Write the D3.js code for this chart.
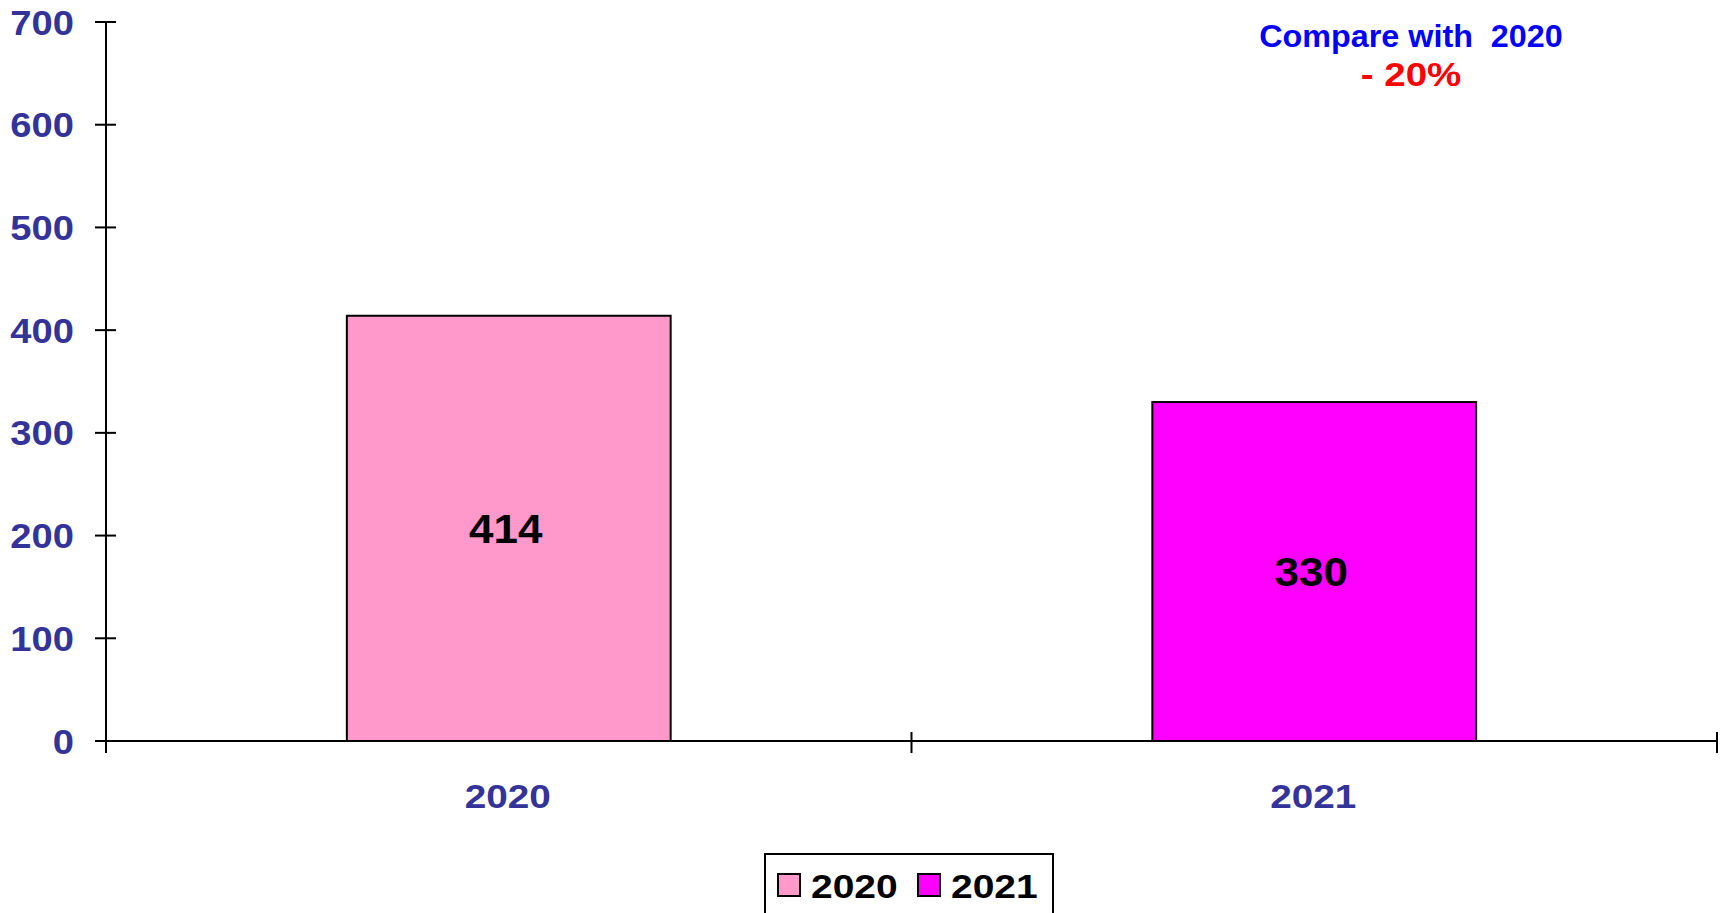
<!DOCTYPE html>
<html>
<head>
<meta charset="utf-8">
<script src="https://cdn.jsdelivr.net/npm/d3@7"></script>
<style>
  body { margin: 0; background: #fff; }
  svg text { font-family: "Liberation Sans", Arial, sans-serif; font-weight: bold; }
</style>
</head>
<body>
<svg id="chart" width="1723" height="913"></svg>
<script>
const years = ["2020", "2021"];
const values = [414, 330];
const barColors = ["#FF99CC", "#FF00FF"];
const yTicks = [0, 100, 200, 300, 400, 500, 600, 700];
const noteLine1 = "Compare with\u00a0\u00a02020";
const noteLine2 = "- 20%";

const svg = d3.select("#chart");
const plotLeft = 106, plotRight = 1717, plotTop = 22, plotBottom = 741;

const x = d3.scaleBand()
    .domain(years)
    .range([plotLeft, plotRight])
    .padding(0);

const y = d3.scaleLinear()
    .domain([0, 700])
    .range([plotBottom, plotTop]);

const barWidth = x.bandwidth() * 0.402;

// the source font is a bit wider than Arial, stretch text horizontally
function stretched(sel, px, py, sx) {
    return sel.attr("transform", (d, i) => `translate(${px(d, i)},${py(d, i)}) scale(${sx},1)`);
}

// bars
svg.append("g")
    .selectAll("rect")
    .data(values)
    .join("rect")
    .attr("x", (d, i) => x(years[i]) + x.bandwidth() / 2 - barWidth / 2)
    .attr("y", d => y(d))
    .attr("width", barWidth)
    .attr("height", d => y(0) - y(d))
    .attr("fill", (d, i) => barColors[i])
    .attr("stroke", "#000")
    .attr("stroke-width", 2);

// value labels in the middle of each bar (sit a touch left of centre)
svg.append("g")
    .selectAll("text")
    .data(values)
    .join("text")
    .call(stretched, (d, i) => x(years[i]) + x.bandwidth() / 2 - 3, d => (y(d) + y(0)) / 2, 1.1)
    .attr("dy", "0.36em")
    .attr("text-anchor", "middle")
    .attr("font-size", 40)
    .attr("fill", "#000")
    .text(d => d);

// y axis
const yAxis = svg.append("g");
yAxis.append("line")
    .attr("x1", plotLeft).attr("x2", plotLeft)
    .attr("y1", y(700)).attr("y2", y(0) + 12)
    .attr("stroke", "#000").attr("stroke-width", 2);
yAxis.selectAll(".tick")
    .data(yTicks)
    .join("line")
    .attr("x1", plotLeft - 11).attr("x2", plotLeft + 10)
    .attr("y1", d => y(d)).attr("y2", d => y(d))
    .attr("stroke", "#000").attr("stroke-width", 2);
yAxis.selectAll("text")
    .data(yTicks)
    .join("text")
    .call(stretched, () => 74, d => y(d), 1.09)
    .attr("dy", "0.36em")
    .attr("text-anchor", "end")
    .attr("font-size", 35)
    .attr("fill", "#333399")
    .text(d => d);

// x axis
const xAxis = svg.append("g");
xAxis.append("line")
    .attr("x1", plotLeft - 11).attr("x2", plotRight)
    .attr("y1", y(0)).attr("y2", y(0))
    .attr("stroke", "#000").attr("stroke-width", 2);
const xTickPos = years.map(d => x(d)).concat([x(years[years.length - 1]) + x.bandwidth()]);
xAxis.selectAll(".tick")
    .data(xTickPos)
    .join("line")
    .attr("x1", d => d).attr("x2", d => d)
    .attr("y1", y(0) - 9).attr("y2", y(0) + 12)
    .attr("stroke", "#000").attr("stroke-width", 2);
xAxis.selectAll("text")
    .data(years)
    .join("text")
    .call(stretched, d => x(d) + x.bandwidth() / 2 - 1, () => 808, 1.14)
    .attr("text-anchor", "middle")
    .attr("font-size", 34)
    .attr("fill", "#333399")
    .text(d => d);

// note in the top right
svg.append("text")
    .datum(noteLine1)
    .call(stretched, () => 1411, () => 47, 1.01)
    .attr("text-anchor", "middle")
    .attr("font-size", 32)
    .attr("fill", "#0000FF")
    .text(d => d);
svg.append("text")
    .datum(noteLine2)
    .call(stretched, () => 1411, () => 86, 1.15)
    .attr("text-anchor", "middle")
    .attr("font-size", 33.5)
    .attr("fill", "#FF0000")
    .text(d => d);

// legend
const legend = svg.append("g");
legend.append("rect")
    .attr("x", 765).attr("y", 854)
    .attr("width", 288).attr("height", 70)
    .attr("fill", "#fff")
    .attr("stroke", "#000").attr("stroke-width", 2);
const legendX = [778, 918];
legend.selectAll(".swatch")
    .data(years)
    .join("rect")
    .attr("x", (d, i) => legendX[i]).attr("y", 874)
    .attr("width", 22).attr("height", 22)
    .attr("fill", (d, i) => barColors[i])
    .attr("stroke", "#000").attr("stroke-width", 2);
legend.selectAll("text")
    .data(years)
    .join("text")
    .call(stretched, (d, i) => legendX[i] + 33, () => 898, 1.2)
    .attr("font-size", 32.5)
    .attr("fill", "#000")
    .text(d => d);
</script>
</body>
</html>
